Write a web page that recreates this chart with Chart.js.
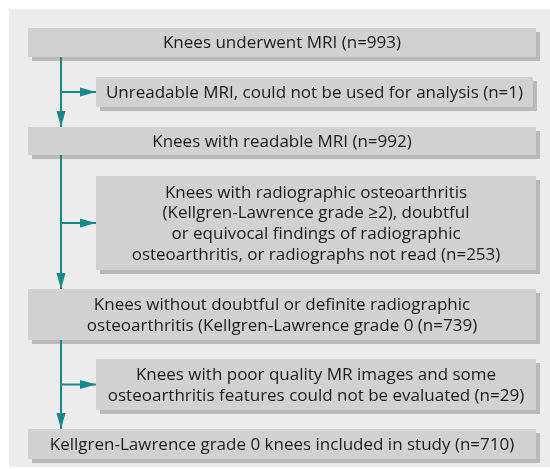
<!DOCTYPE html>
<html>
<head>
<meta charset="utf-8">
<script src="https://cdn.jsdelivr.net/npm/chart.js@4"></script>
<style>
  body { margin: 0; background: #fff; }
  canvas { display: block; }
</style>
</head>
<body>
<canvas id="flow" width="550" height="469"></canvas>
<script>
// flowchart content
const stageText = [
  ['Knees underwent MRI'],
  ['Unreadable MRI, could not be used for analysis'],
  ['Knees with readable MRI'],
  ['Knees with radiographic osteoarthritis', '(Kellgren-Lawrence grade \u22652), doubtful', 'or equivocal findings of radiographic', 'osteoarthritis, or radiographs not read'],
  ['Knees without doubtful or definite radiographic', 'osteoarthritis (Kellgren-Lawrence grade 0'],
  ['Knees with poor quality MR images and some', 'osteoarthritis features could not be evaluated'],
  ['Kellgren-Lawrence grade 0 knees included in study']
];
const stageCounts = [993, 1, 992, 253, 739, 29, 710];
const isExclusion = [false, true, false, true, false, true, false];

// box layout in chart units (x 0-550, y 0-469 top-down)
const boxTop = [28, 77, 127, 176, 289, 359, 429];
const boxBottom = [57, 107, 155, 270, 340, 410, 459];
const mainLeft = 28, sideLeft = 96, boxRight = 536;
const spineX = 61;

const teal = '#17898a';

// connector segments built from the box layout
const spine = [];
const branches = [];
const arrowsDown = [];
const arrowsRight = [];
for (let i = 0; i < stageText.length; i++) {
  if (isExclusion[i]) {
    const yc = (boxTop[i] + boxBottom[i]) / 2;
    branches.push([{x: spineX, y: yc}, {x: sideLeft, y: yc}]);
    arrowsRight.push({x: sideLeft, y: yc});
  } else if (i > 0) {
    spine.push([{x: spineX, y: boxBottom[i - 2]}, {x: spineX, y: boxTop[i]}]);
    arrowsDown.push({x: spineX, y: boxTop[i]});
  }
}

const lineDatasets = spine.concat(branches).map(seg => ({
  data: seg,
  showLine: true,
  borderColor: teal,
  borderWidth: 2,
  pointRadius: 0,
  fill: false
}));

const boxesPlugin = {
  id: 'boxes',
  beforeDatasetsDraw(chart) {
    const {ctx, scales: {x, y}} = chart;
    ctx.save();
    // panel
    ctx.fillStyle = '#ececec';
    ctx.fillRect(x.getPixelForValue(9), y.getPixelForValue(9),
      x.getPixelForValue(550) - x.getPixelForValue(9), y.getPixelForValue(467) - y.getPixelForValue(9));
    stageText.forEach((lines, i) => {
      const l = x.getPixelForValue(isExclusion[i] ? sideLeft : mainLeft);
      const r = x.getPixelForValue(i === 1 ? boxRight - 3 : boxRight);
      const t = y.getPixelForValue(boxTop[i]);
      const b = y.getPixelForValue(boxBottom[i]);
      ctx.fillStyle = '#b9b9b9';
      ctx.fillRect(l + 4, t + 4, r - l, b - t);
      ctx.fillStyle = '#d1d1d1';
      ctx.fillRect(l, t, r - l, b - t);
      ctx.fillStyle = '#1c1c1c';
      ctx.font = '17px "Open Sans"';
      ctx.textAlign = 'center';
      ctx.textBaseline = 'middle';
      const cx = (l + r) / 2;
      const cy = (t + b) / 2;
      const lh = 20.7;
      lines.forEach((s, j) => {
        const txt = j === lines.length - 1 ? s + ' (n=' + stageCounts[i] + ')' : s;
        ctx.fillText(txt, cx, cy + (j - (lines.length - 1) / 2) * lh + 1);
      });
    });
    ctx.restore();
  },
  afterDatasetsDraw(chart) {
    const {ctx, scales: {x, y}} = chart;
    ctx.save();
    ctx.fillStyle = teal;
    arrowsDown.forEach(p => {
      const px = x.getPixelForValue(p.x), py = y.getPixelForValue(p.y);
      ctx.beginPath();
      ctx.moveTo(px, py);
      ctx.lineTo(px - 4.5, py - 16);
      ctx.lineTo(px + 4.5, py - 16);
      ctx.closePath();
      ctx.fill();
    });
    arrowsRight.forEach(p => {
      const px = x.getPixelForValue(p.x), py = y.getPixelForValue(p.y);
      ctx.beginPath();
      ctx.moveTo(px, py);
      ctx.lineTo(px - 16, py - 4.5);
      ctx.lineTo(px - 16, py + 4.5);
      ctx.closePath();
      ctx.fill();
    });
    ctx.restore();
  }
};

new Chart(document.getElementById('flow'), {
  type: 'scatter',
  data: { datasets: lineDatasets },
  options: {
    responsive: false,
    animation: false,
    devicePixelRatio: 1,
    layout: { padding: 0 },
    plugins: { legend: { display: false }, tooltip: { enabled: false } },
    scales: {
      x: { type: 'linear', min: 0, max: 550, display: false },
      y: { type: 'linear', min: 0, max: 469, reverse: true, display: false }
    }
  },
  plugins: [boxesPlugin]
});
</script>
</body>
</html>
